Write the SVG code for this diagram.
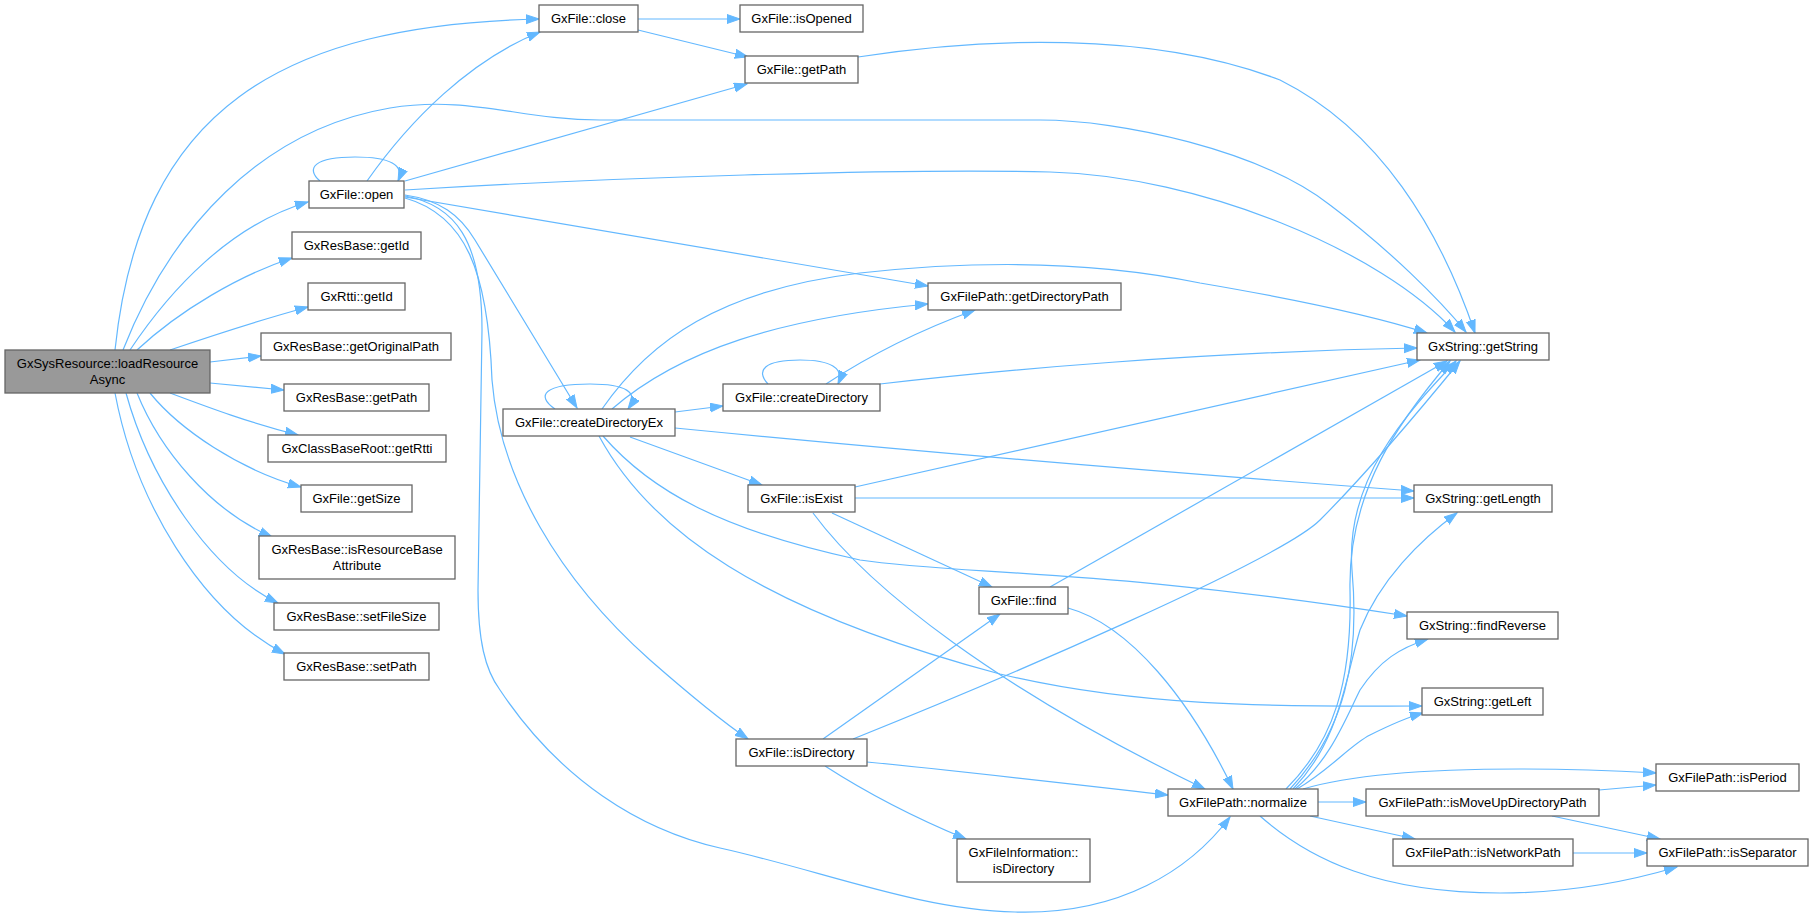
<svg xmlns="http://www.w3.org/2000/svg" width="1813" height="918" viewBox="0 0 1813 918">
<style>
.n rect{fill:#ffffff;stroke:#666666;stroke-width:1.3}
.n.m rect{fill:#999999}
.n text{font-family:"Liberation Sans",Arial,sans-serif;font-size:13px;fill:#000000;text-anchor:middle}
.e path{fill:none;stroke:#63b8ff;stroke-width:1.2;marker-end:url(#a)}
</style>
<defs>
<marker id="a" markerWidth="14" markerHeight="11" refX="13" refY="5" orient="auto" markerUnits="userSpaceOnUse"><path d="M0,0.5 L13,5 L0,9.5 z" fill="#63b8ff" stroke="#63b8ff" stroke-width="1"/></marker>
</defs>
<rect x="0" y="0" width="1813" height="918" fill="#ffffff"/>
<g id="edges" class="e">
<!-- loadResourceAsync -->
<path d="M115,350 C140,110 280,25 539,19"/>
<path d="M123,350 C170,230 260,130 390,108 C470,95 520,120 600,120 L1040,120 C1120,120 1260,150 1330,205 C1390,250 1440,300 1466,332"/>
<path d="M130,350 C170,290 230,225 308,202"/>
<path d="M137,350 C180,310 240,275 292,258"/>
<path d="M170,350 C220,333 260,320 308,307"/>
<path d="M210,362 L261,356"/>
<path d="M210,383 L284,390"/>
<path d="M170,393 C210,408 250,423 298,435"/>
<path d="M150,393 C180,430 240,470 301,487"/>
<path d="M137,393 C160,450 210,510 272,537"/>
<path d="M126,393 C150,480 210,570 278,603"/>
<path d="M115,393 C135,500 200,610 285,654"/>
<!-- open -->
<path d="M320,181 C305,168 315,157 355,157 C390,157 405,165 398,181"/>
<path d="M367,181 C410,120 470,60 540,32"/>
<path d="M405,181 L747,84"/>
<path d="M405,190 C600,178 900,168 1050,172 C1200,176 1380,250 1455,332"/>
<path d="M405,197 L928,286"/>
<path d="M405,195 C440,200 460,215 475,240 L577,408"/>
<path d="M405,198 C465,215 488,270 492,380 C500,480 560,580 650,660 C690,695 720,720 748,739"/>
<path d="M405,196 C455,205 482,240 482,330 L478,590 C478,640 485,670 500,690 C560,780 640,830 720,848 C820,870 920,910 1015,912 C1120,915 1190,870 1230,817"/>
<!-- close -->
<path d="M638,19 L740,19"/>
<path d="M638,30 L748,57"/>
<!-- getPath -->
<path d="M858,57 C980,38 1150,30 1280,80 C1380,130 1440,230 1475,333"/>
<!-- createDirectoryEx -->
<path d="M555,409 C535,395 545,384 590,384 C625,384 640,392 628,409"/>
<path d="M602,409 C650,340 720,290 860,273 C960,262 1080,258 1200,283 C1300,300 1380,318 1427,333"/>
<path d="M612,409 C680,350 780,318 928,304"/>
<path d="M675,412 L723,406"/>
<path d="M675,428 C900,450 1200,475 1414,491"/>
<path d="M630,437 L762,485"/>
<path d="M603,436 C650,490 720,530 860,560 C960,575 1100,568 1407,616"/>
<path d="M599,436 C650,530 760,610 1000,674 C1150,710 1300,706 1422,706"/>
<!-- createDirectory -->
<path d="M768,384 C755,370 765,360 800,360 C830,360 845,368 838,384"/>
<path d="M826,384 C870,355 920,330 975,310"/>
<path d="M880,384 C1000,370 1200,352 1417,348"/>
<!-- isExist -->
<path d="M855,487 L1420,360"/>
<path d="M855,498 L1414,498"/>
<path d="M832,513 L992,587"/>
<path d="M813,513 C870,590 1000,690 1205,789"/>
<!-- find -->
<path d="M1050,587 L1447,361"/>
<path d="M1068,608 C1130,625 1190,700 1233,789"/>
<!-- isDirectory -->
<path d="M823,739 L1000,614"/>
<path d="M853,739 C1000,680 1280,560 1320,520 C1370,470 1420,410 1460,361"/>
<path d="M867,762 C950,770 1080,785 1168,795"/>
<path d="M825,766 C870,795 920,820 966,839"/>
<!-- normalize -->
<path d="M1286,789 C1335,740 1352,680 1350,590 C1348,490 1400,420 1450,361"/>
<path d="M1290,789 C1345,730 1360,660 1352,570 C1345,480 1405,415 1456,361"/>
<path d="M1293,789 C1340,740 1345,680 1360,630 C1380,580 1420,540 1457,513"/>
<path d="M1295,789 C1330,760 1345,720 1360,690 C1380,660 1400,648 1428,639"/>
<path d="M1297,789 C1330,770 1350,745 1370,735 C1390,725 1405,718 1423,713"/>
<path d="M1303,789 C1360,772 1450,769 1520,769 C1580,769 1620,771 1656,773"/>
<path d="M1318,802 L1366,802"/>
<path d="M1310,816 L1415,839"/>
<path d="M1260,816 C1310,860 1380,893 1500,893 C1580,893 1640,878 1677,867"/>
<!-- isMoveUpDirectoryPath -->
<path d="M1599,790 L1656,785"/>
<path d="M1552,816 L1660,839"/>
<!-- isNetworkPath -->
<path d="M1573,853 L1647,853"/>
</g>
<g id="n-loadResourceAsync" class="n m"><rect x="5" y="350" width="205" height="43"/><text x="107.5" y="367.5">GxSysResource::loadResource</text><text x="107.5" y="383.5">Async</text></g>
<g id="n-close" class="n"><rect x="539" y="5" width="99" height="27"/><text x="588.5" y="23">GxFile::close</text></g>
<g id="n-isOpened" class="n"><rect x="740" y="5" width="123" height="27"/><text x="801.5" y="23">GxFile::isOpened</text></g>
<g id="n-getPath" class="n"><rect x="745" y="56" width="113" height="27"/><text x="801.5" y="74">GxFile::getPath</text></g>
<g id="n-open" class="n"><rect x="309" y="181" width="95" height="27"/><text x="356.5" y="199">GxFile::open</text></g>
<g id="n-resGetId" class="n"><rect x="292" y="232" width="129" height="27"/><text x="356.5" y="250">GxResBase::getId</text></g>
<g id="n-rttiGetId" class="n"><rect x="308" y="283" width="97" height="27"/><text x="356.5" y="301">GxRtti::getId</text></g>
<g id="n-getOriginalPath" class="n"><rect x="261" y="333" width="190" height="27"/><text x="356" y="351">GxResBase::getOriginalPath</text></g>
<g id="n-resGetPath" class="n"><rect x="284" y="384" width="145" height="27"/><text x="356.5" y="402">GxResBase::getPath</text></g>
<g id="n-getRtti" class="n"><rect x="268" y="435" width="178" height="27"/><text x="357" y="453">GxClassBaseRoot::getRtti</text></g>
<g id="n-getSize" class="n"><rect x="301" y="485" width="111" height="27"/><text x="356.5" y="503">GxFile::getSize</text></g>
<g id="n-isResourceBaseAttribute" class="n"><rect x="259" y="536" width="196" height="43"/><text x="357" y="553.5">GxResBase::isResourceBase</text><text x="357" y="569.5">Attribute</text></g>
<g id="n-setFileSize" class="n"><rect x="274" y="603" width="165" height="27"/><text x="356.5" y="621">GxResBase::setFileSize</text></g>
<g id="n-setPath" class="n"><rect x="284" y="653" width="145" height="27"/><text x="356.5" y="671">GxResBase::setPath</text></g>
<g id="n-createDirectoryEx" class="n"><rect x="503" y="409" width="172" height="27"/><text x="589" y="427">GxFile::createDirectoryEx</text></g>
<g id="n-getDirectoryPath" class="n"><rect x="928" y="283" width="193" height="27"/><text x="1024.5" y="301">GxFilePath::getDirectoryPath</text></g>
<g id="n-createDirectory" class="n"><rect x="723" y="384" width="157" height="27"/><text x="801.5" y="402">GxFile::createDirectory</text></g>
<g id="n-isExist" class="n"><rect x="748" y="485" width="107" height="27"/><text x="801.5" y="503">GxFile::isExist</text></g>
<g id="n-isDirectory" class="n"><rect x="736" y="739" width="131" height="27"/><text x="801.5" y="757">GxFile::isDirectory</text></g>
<g id="n-find" class="n"><rect x="979" y="587" width="89" height="27"/><text x="1023.5" y="605">GxFile::find</text></g>
<g id="n-fiIsDirectory" class="n"><rect x="957" y="839" width="133" height="43"/><text x="1023.5" y="856.5">GxFileInformation::</text><text x="1023.5" y="872.5">isDirectory</text></g>
<g id="n-normalize" class="n"><rect x="1168" y="789" width="150" height="27"/><text x="1243" y="807">GxFilePath::normalize</text></g>
<g id="n-getString" class="n"><rect x="1417" y="333" width="132" height="27"/><text x="1483" y="351">GxString::getString</text></g>
<g id="n-getLength" class="n"><rect x="1414" y="485" width="138" height="27"/><text x="1483" y="503">GxString::getLength</text></g>
<g id="n-findReverse" class="n"><rect x="1407" y="612" width="151" height="27"/><text x="1482.5" y="630">GxString::findReverse</text></g>
<g id="n-getLeft" class="n"><rect x="1422" y="688" width="121" height="27"/><text x="1482.5" y="706">GxString::getLeft</text></g>
<g id="n-isMoveUpDirectoryPath" class="n"><rect x="1366" y="789" width="233" height="27"/><text x="1482.5" y="807">GxFilePath::isMoveUpDirectoryPath</text></g>
<g id="n-isNetworkPath" class="n"><rect x="1393" y="839" width="180" height="27"/><text x="1483" y="857">GxFilePath::isNetworkPath</text></g>
<g id="n-isPeriod" class="n"><rect x="1656" y="764" width="143" height="27"/><text x="1727.5" y="782">GxFilePath::isPeriod</text></g>
<g id="n-isSeparator" class="n"><rect x="1647" y="839" width="161" height="27"/><text x="1727.5" y="857">GxFilePath::isSeparator</text></g>
</svg>
